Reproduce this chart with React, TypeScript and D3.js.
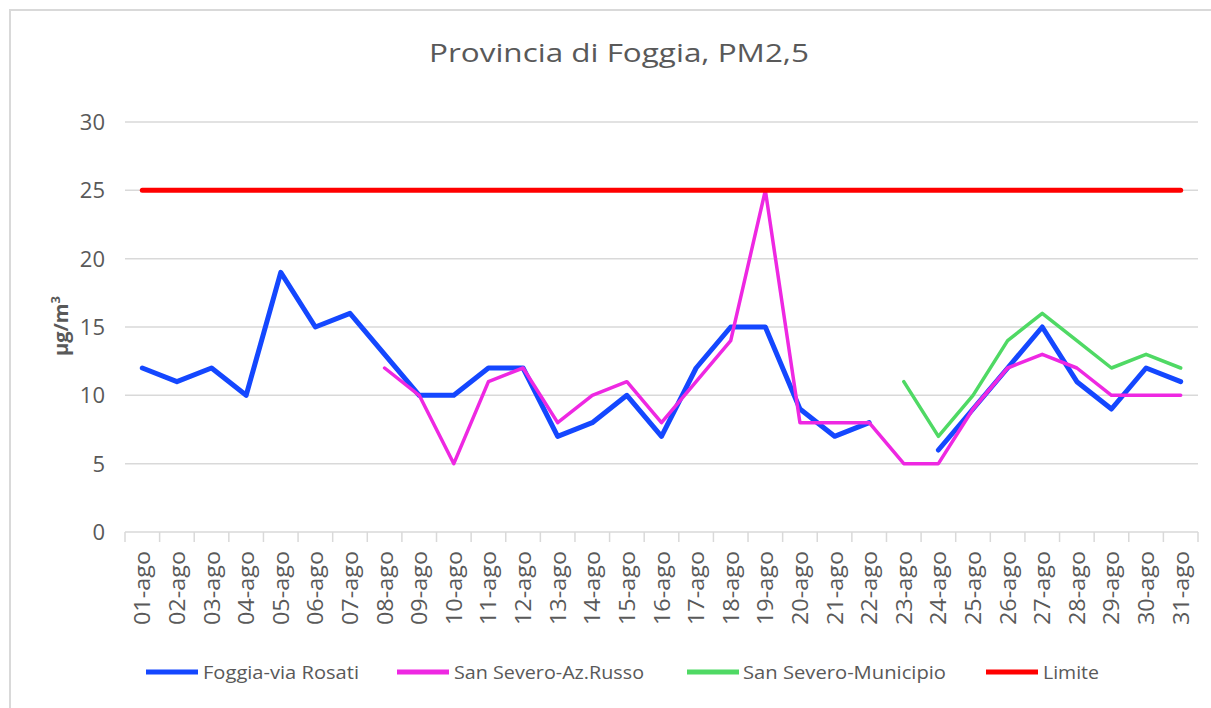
import * as d3 from "d3";

const days = [
  "01-ago", "02-ago", "03-ago", "04-ago", "05-ago", "06-ago", "07-ago", "08-ago",
  "09-ago", "10-ago", "11-ago", "12-ago", "13-ago", "14-ago", "15-ago", "16-ago",
  "17-ago", "18-ago", "19-ago", "20-ago", "21-ago", "22-ago", "23-ago", "24-ago",
  "25-ago", "26-ago", "27-ago", "28-ago", "29-ago", "30-ago", "31-ago",
];

const foggiaRosati = [12, 11, 12, 10, 19, 15, 16, 13, 10, 10, 12, 12, 7, 8, 10, 7,
  12, 15, 15, 9, 7, 8, null, 6, 9, 12, 15, 11, 9, 12, 11];
const sanSeveroRusso = [null, null, null, null, null, null, null, 12, 10, 5, 11, 12, 8, 10, 11, 8,
  11, 14, 25, 8, 8, 8, 5, 5, 9, 12, 13, 12, 10, 10, 10];
const sanSeveroMunicipio = [null, null, null, null, null, null, null, null, null, null, null, null, null, null, null, null,
  null, null, null, null, null, null, 11, 7, 10, 14, 16, 14, 12, 13, 12];
const limite = [25, 25, 25, 25, 25, 25, 25, 25, 25, 25, 25, 25, 25, 25, 25, 25,
  25, 25, 25, 25, 25, 25, 25, 25, 25, 25, 25, 25, 25, 25, 25];

const yTicks = [0, 5, 10, 15, 20, 25, 30];

const series = [
  { name: "Foggia-via Rosati", values: foggiaRosati, color: "#1447ff", width: 5, lx: 146, tx: 203, tw: 156 },
  { name: "San Severo-Az.Russo", values: sanSeveroRusso, color: "#ee28e2", width: 3.5, lx: 397, tx: 454, tw: 190 },
  { name: "San Severo-Municipio", values: sanSeveroMunicipio, color: "#4fd964", width: 3.5, lx: 687, tx: 743, tw: 203 },
  { name: "Limite", values: limite, color: "#ff0000", width: 5, lx: 986, tx: 1043, tw: 56 },
];

const W = 1211, H = 708;
const font = "'Open Sans', 'Liberation Sans', sans-serif";
const grey = "#595959";

export default function App() {
  const x = d3.scaleBand().domain(days).range([125, 1198]);
  const y = d3.scaleLinear().domain([0, 30]).range([532, 122]);
  const cx = (d: string) => (x(d) as number) + x.bandwidth() / 2;

  const line = d3.line<number | null>()
    .defined(v => v !== null)
    .x((_, i) => cx(days[i]))
    .y(v => y(v as number));

  const boundaries = days.map(d => x(d) as number).concat([x.range()[1]]);

  return (
    <svg width={W} height={H} style={{ position: "absolute", left: 0, top: 0, background: "#fff" }}>
      <path d={`M10,${H} V10 H${W}`} fill="none" stroke="#d9d9d9" strokeWidth={2} />

      <text x={619} y={62} textAnchor="middle" fontFamily={font} fontSize={25} fill={grey}
        textLength={380} lengthAdjust="spacingAndGlyphs">Provincia di Foggia, PM2,5</text>

      {yTicks.filter(t => t > 0).map(t => (
        <line key={t} x1={125} x2={1198} y1={y(t)} y2={y(t)} stroke="#d9d9d9" strokeWidth={1.5} />
      ))}
      {yTicks.map(t => (
        <text key={"l" + t} x={105} y={y(t) + 8} textAnchor="end" fontFamily={font} fontSize={22} fill={grey}>{t}</text>
      ))}

      <line x1={125} x2={1198} y1={y(0)} y2={y(0)} stroke="#d9d9d9" strokeWidth={1.5} />
      {boundaries.map((b, i) => (
        <line key={"t" + i} x1={b} x2={b} y1={y(0)} y2={y(0) + 10} stroke="#d9d9d9" strokeWidth={1.5} />
      ))}
      {days.map(d => (
        <text key={d} transform={`translate(${cx(d) + 8},551) rotate(-90)`} textAnchor="end"
          fontFamily={font} fontSize={21} fill={grey} textLength={74} lengthAdjust="spacingAndGlyphs">{d}</text>
      ))}

      <text transform="translate(68,326) rotate(-90)" textAnchor="middle" fontFamily={font}
        fontSize={20} fontWeight="bold" fill={grey}>
        μg/m<tspan fontSize={13} dy={-8}>3</tspan>
      </text>

      {series.map(s => (
        <path key={s.name} d={line(s.values) ?? ""} fill="none" stroke={s.color}
          strokeWidth={s.width} strokeLinejoin="round" strokeLinecap="round" />
      ))}

      {series.map(s => (
        <g key={"lg" + s.name}>
          <line x1={s.lx} x2={s.lx + 52} y1={672} y2={672} stroke={s.color} strokeWidth={5} />
          <text x={s.tx} y={679} fontFamily={font} fontSize={19} fill={grey}
            textLength={s.tw} lengthAdjust="spacingAndGlyphs">{s.name}</text>
        </g>
      ))}
    </svg>
  );
}
